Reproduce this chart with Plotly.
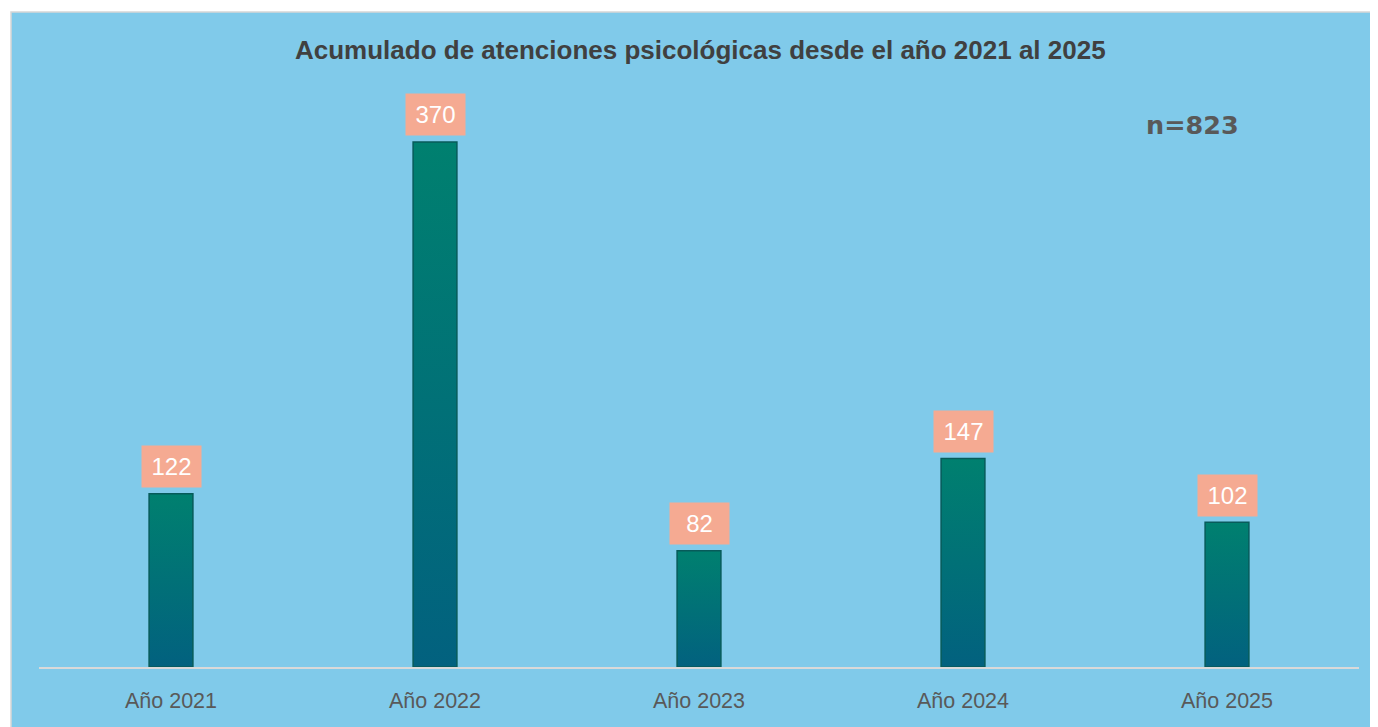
import plotly.graph_objects as go

# datos
anios = ["Año 2021", "Año 2022", "Año 2023", "Año 2024", "Año 2025"]
atenciones = [122, 370, 82, 147, 102]
total = 823

titulo = "Acumulado de atenciones psicológicas desde el año 2021 al 2025"

fondo = "#80caea"
barra_arriba = "#00806f"
barra_abajo = "#02617f"
etiqueta = "#f5aa92"
gris = "#595959"
fuente = "Liberation Sans, Arial"

mitad = 0.083  # media anchura de barra en unidades de categoria

fig = go.Figure()

for i, v in enumerate(atenciones):
    fig.add_trace(go.Scatter(
        x=[i - mitad, i - mitad, i + mitad, i + mitad, i - mitad],
        y=[0, v, v, 0, 0],
        mode="lines",
        fill="toself",
        fillgradient=dict(type="vertical",
                          colorscale=[[0, barra_abajo], [1, barra_arriba]]),
        line=dict(color="#075b5a", width=1.5),
        hoverinfo="skip",
        showlegend=False,
    ))
    fig.add_annotation(
        x=i, y=v, text=str(v), showarrow=False,
        yshift=27, yanchor="middle",
        width=57, height=39, borderpad=1,
        bgcolor=etiqueta,
        font=dict(family=fuente, size=24, color="white"),
    )

fig.add_annotation(
    xref="paper", yref="paper", x=0.5008, y=1.0335,
    text="<b>" + titulo + "</b>", showarrow=False,
    xanchor="center", yanchor="middle",
    font=dict(family=fuente, size=26, color="#404040"),
)

fig.add_annotation(
    xref="paper", yref="paper", x=0.8735, y=0.908,
    text="<b>n=" + str(total) + "</b>", showarrow=False,
    xanchor="center", yanchor="middle",
    font=dict(family="DejaVu Sans", size=25.5, color=gris),
)

fig.update_xaxes(
    range=[-0.5, 4.5],
    tickmode="array", tickvals=list(range(len(anios))), ticktext=anios,
    tickfont=dict(family=fuente, size=21.5, color=gris),
    showgrid=False, zeroline=False,
    showline=True, linecolor="#d9d9d9", linewidth=2,
    ticks="outside", ticklen=13, tickcolor="rgba(0,0,0,0)",
)
fig.update_yaxes(range=[0, 420.7], visible=False, showgrid=False)

# la pagina deja 8 px de margen, se compensa con el tamano
fig.update_layout(
    width=1370, height=719,
    margin=dict(l=31, r=19, t=62, b=60),
    paper_bgcolor=fondo,
    plot_bgcolor="rgba(0,0,0,0)",
)
# franja blanca arriba/izquierda con borde gris, como en el original
fig.add_shape(type="rect", xref="paper", yref="paper",
              x0=-0.03, x1=1.03, y0=1.097, y1=1.2,
              fillcolor="white", line_width=0, layer="below")
fig.add_shape(type="rect", xref="paper", yref="paper",
              x0=-0.03, x1=-0.0212, y0=-0.2, y1=1.2,
              fillcolor="white", line_width=0, layer="below")
fig.add_shape(type="rect", xref="paper", yref="paper",
              x0=-0.0212, x1=1.03, y0=-0.2, y1=1.097,
              fillcolor="rgba(0,0,0,0)", line=dict(color="#d6d6d6", width=1.5),
              layer="below")

fig.write_html("out.html")
